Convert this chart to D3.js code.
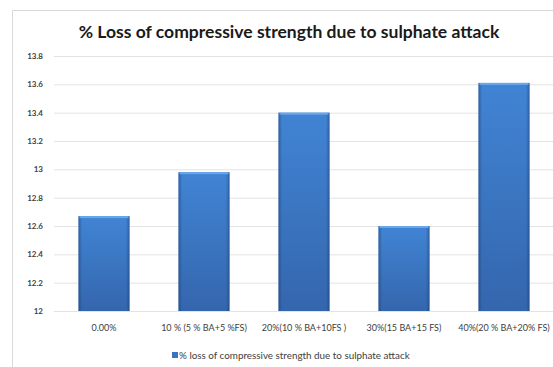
<!DOCTYPE html>
<html>
<head>
<meta charset="utf-8">
<script src="https://cdn.jsdelivr.net/npm/d3@7"></script>
<style>
  html, body { margin: 0; padding: 0; background: #ffffff; overflow: hidden; }
  svg { display: block; overflow: hidden; }
  text { font-family: Lato, "Open Sans", "Liberation Sans", sans-serif; }
</style>
</head>
<body>
<svg id="chart" width="553" height="367"></svg>
<script>
// Mixes and their % loss of compressive strength after sulphate exposure
const categories = ["0.00%", "10 % (5 % BA+5 %FS)", "20%(10 % BA+10FS )", "30%(15 BA+15 FS)", "40%(20 % BA+20% FS)"];
const lossValues = [12.67, 12.98, 13.40, 12.60, 13.61];
const yTicks = [12, 12.2, 12.4, 12.6, 12.8, 13, 13.2, 13.4, 13.6, 13.8];
const seriesName = "% loss of compressive strength due to sulphate attack";
const titleText = "% Loss of compressive strength due to sulphate attack";

const W = 553, H = 367;
const svg = d3.select("#chart");

// chart frame: left and top edges show, the rest runs past the canvas
svg.append("path")
  .attr("d", `M12.5,${H} V10.5 H${W}`)
  .attr("fill", "none")
  .attr("stroke", "#d9d9d9").attr("stroke-width", 1);

const plot = { left: 54, right: 554, top: 56, bottom: 311 };

const x = d3.scaleBand()
  .domain(categories)
  .range([plot.left, plot.right])
  .paddingInner(0.49)
  .paddingOuter(0.245);

const y = d3.scaleLinear()
  .domain([12, 13.8])
  .range([plot.bottom, plot.top]);

// gradients for the bars
const defs = svg.append("defs");
const vGrad = defs.append("linearGradient").attr("id", "barV")
  .attr("x1", 0).attr("y1", 0).attr("x2", 0).attr("y2", 1);
vGrad.append("stop").attr("offset", "0%").attr("stop-color", "#4184d4");
vGrad.append("stop").attr("offset", "100%").attr("stop-color", "#3466ad");

const hGrad = defs.append("linearGradient").attr("id", "barH")
  .attr("x1", 0).attr("y1", 0).attr("x2", 1).attr("y2", 0);
hGrad.append("stop").attr("offset", "0%").attr("stop-color", "#1d3f75").attr("stop-opacity", 0.55);
hGrad.append("stop").attr("offset", "7%").attr("stop-color", "#1d3f75").attr("stop-opacity", 0.0);
hGrad.append("stop").attr("offset", "93%").attr("stop-color", "#1d3f75").attr("stop-opacity", 0.0);
hGrad.append("stop").attr("offset", "100%").attr("stop-color", "#1d3f75").attr("stop-opacity", 0.55);

// horizontal gridlines via a left axis with full-width ticks
const yAxis = d3.axisLeft(y)
  .tickValues(yTicks)
  .tickSize(-(plot.right - plot.left))
  .tickPadding(11)
  .tickFormat(d => d3.format("~g")(d));

const gy = svg.append("g")
  .attr("transform", `translate(${plot.left},0)`)
  .call(yAxis);
gy.select(".domain").remove();
gy.selectAll(".tick line").attr("stroke", "#e3e3e3").attr("stroke-width", 1);
gy.selectAll(".tick text")
  .attr("fill", "#404040")
  .attr("font-size", 8)
  .attr("font-weight", "bold");

// bars
const bars = svg.append("g").selectAll("g")
  .data(categories.map((c, i) => ({ c, v: lossValues[i] })))
  .join("g");

bars.append("rect")
  .attr("x", d => x(d.c))
  .attr("y", d => y(d.v))
  .attr("width", x.bandwidth())
  .attr("height", d => y(12) - y(d.v))
  .attr("fill", "url(#barV)");

bars.append("rect")
  .attr("x", d => x(d.c))
  .attr("y", d => y(d.v))
  .attr("width", x.bandwidth())
  .attr("height", d => y(12) - y(d.v))
  .attr("fill", "url(#barH)");

// light bevel along the top edge
bars.append("rect")
  .attr("x", d => x(d.c) + 1)
  .attr("y", d => y(d.v))
  .attr("width", x.bandwidth() - 2)
  .attr("height", 2)
  .attr("fill", "#6aa6ea");

// category axis labels
const xAxis = d3.axisBottom(x).tickSize(0).tickPadding(14);
const gx = svg.append("g")
  .attr("transform", `translate(0,${plot.bottom})`)
  .call(xAxis);
gx.select(".domain").remove();
gx.selectAll(".tick text")
  .attr("fill", "#404040")
  .attr("font-size", 9);

// title
const title = svg.append("text")
  .attr("x", 289)
  .attr("y", 38)
  .attr("text-anchor", "middle")
  .attr("font-size", 16)
  .attr("font-weight", "bold")
  .attr("fill", "#1a1a1a")
  .text(titleText);
const tw = title.node().getComputedTextLength();
title.attr("font-size", 16 * 421 / tw);

// legend
const legend = svg.append("g").attr("transform", "translate(172,356)");
legend.append("rect")
  .attr("x", 0).attr("y", -4)
  .attr("width", 6).attr("height", 6)
  .attr("fill", "#3a74c0");
const lt = legend.append("text")
  .attr("x", 7).attr("y", 2.5)
  .attr("font-size", 8)
  .attr("fill", "#404040")
  .text(seriesName);
const lw = lt.node().getComputedTextLength();
lt.attr("font-size", 8 * 231 / lw);
</script>
</body>
</html>
